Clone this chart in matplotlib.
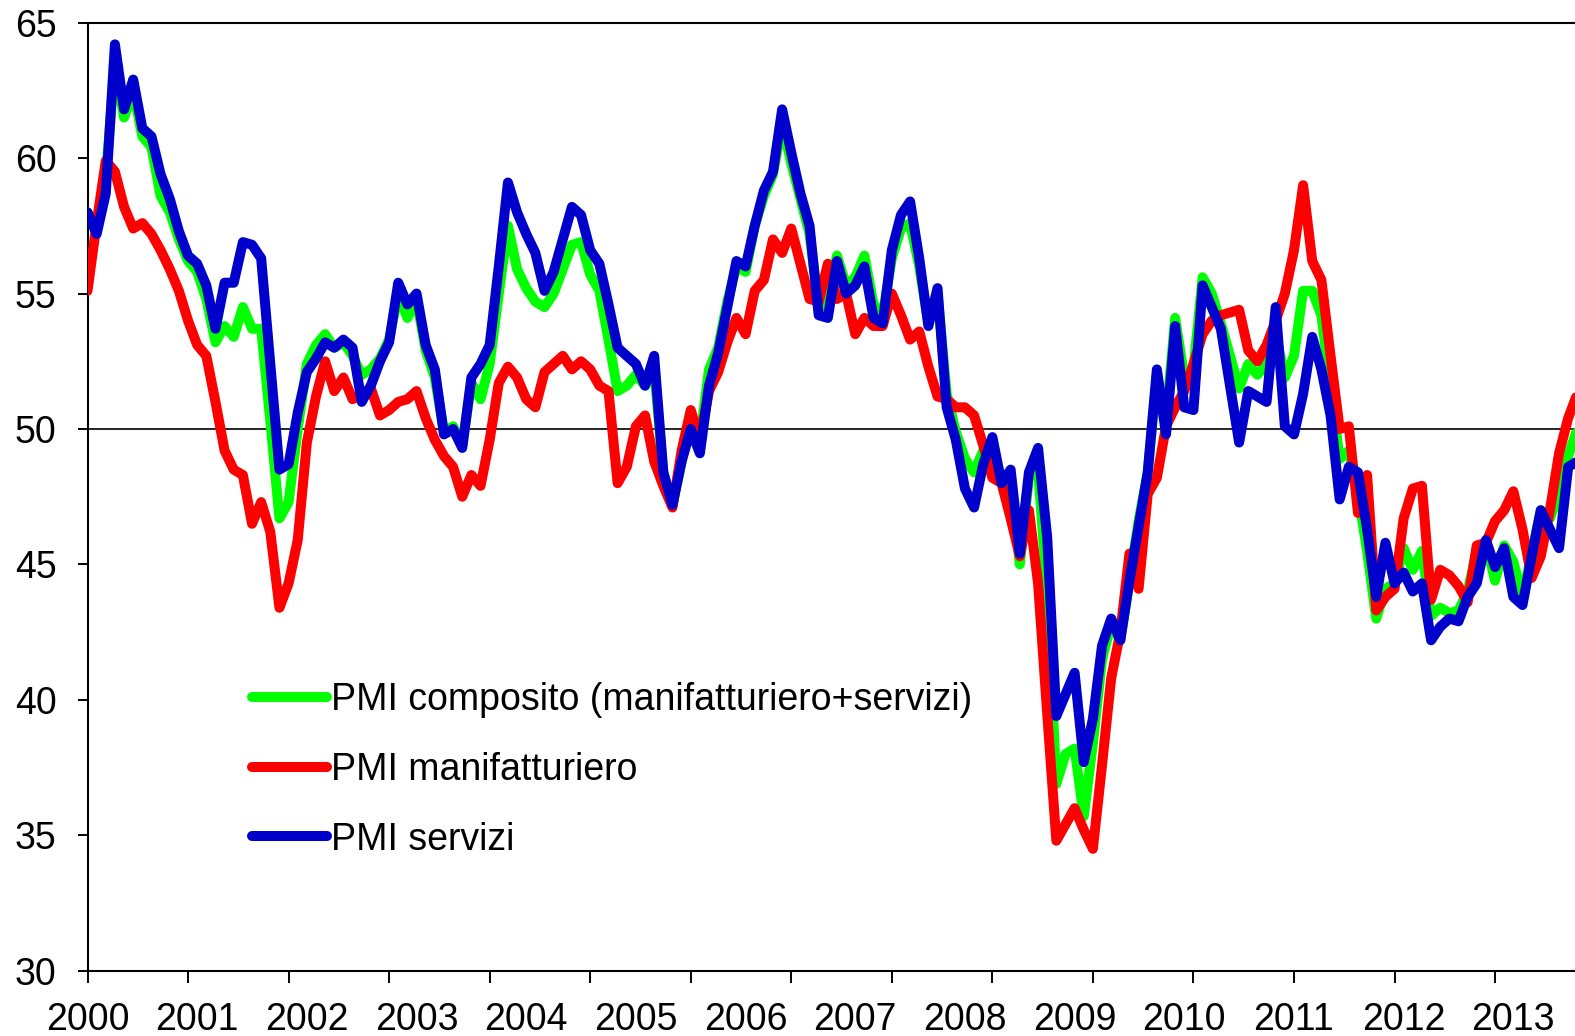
import matplotlib
matplotlib.use("Agg")
import matplotlib.pyplot as plt
import numpy as np

plt.rcParams['font.family'] = ['Liberation Sans', 'DejaVu Sans']

years = [str(y) for y in range(2000, 2014)]

composito = [
    58.0, 57.4, 59.3, 63.5, 61.5, 62.5, 60.8, 60.4, 58.6, 58.0, 57.0, 56.2,
    55.8, 54.8, 53.2, 53.8, 53.4, 54.5, 53.7, 53.7, 50.3, 46.7, 47.3, 50.0,
    52.4, 53.1, 53.5, 53.0, 53.2, 52.7, 52.0, 52.2, 52.6, 53.3, 55.0, 54.1,
    54.8, 52.9, 51.9, 49.9, 50.1, 49.4, 51.7, 51.1, 52.4, 55.0, 57.5, 55.9,
    55.2, 54.7, 54.5, 55.0, 55.9, 56.8, 56.9, 55.7, 55.1, 53.3, 51.4, 51.6,
    52.0, 51.6, 52.2, 48.4, 47.2, 48.8, 50.5, 49.6, 52.2, 53.0, 54.7, 56.0,
    55.8, 57.5, 58.6, 59.4, 61.3, 59.8, 58.5, 57.2, 54.5, 54.6, 56.4, 55.3,
    55.6, 56.4, 54.6, 54.2, 56.3, 57.4, 57.6, 56.0, 53.9, 55.0, 51.3, 49.9,
    48.9, 48.4, 49.2, 49.6, 48.0, 48.3, 45.0, 48.2, 48.5, 44.0, 36.9, 38.0,
    38.2, 35.7, 38.4, 41.5, 42.8, 42.2, 44.4, 46.6, 48.4, 52.0, 50.3, 54.1,
    51.9, 52.2, 55.6, 55.0, 53.9, 52.7, 51.5, 52.4, 52.0, 52.4, 53.5, 51.9,
    52.7, 55.1, 55.1, 54.2, 51.5, 48.9, 49.2, 47.6, 45.5, 43.0, 44.1, 44.3,
    45.6, 44.8, 45.5, 43.1, 43.4, 43.2, 43.3, 44.0, 45.5, 45.8, 44.4, 45.7,
    45.1, 43.8, 45.4, 47.0, 46.7, 47.6, 49.0, 50.0,
]

manifatturiero = [
    55.1, 57.6, 59.9, 59.5, 58.2, 57.4, 57.6, 57.2, 56.6, 55.9, 55.1, 54.0,
    53.1, 52.7, 51.0, 49.2, 48.5, 48.3, 46.5, 47.3, 46.2, 43.4, 44.3, 45.9,
    49.5, 51.2, 52.5, 51.4, 51.9, 51.1, 51.3, 51.5, 50.5, 50.7, 51.0, 51.1,
    51.4, 50.4, 49.6, 49.0, 48.6, 47.5, 48.3, 47.9, 49.6, 51.7, 52.3, 51.9,
    51.1, 50.8, 52.1, 52.4, 52.7, 52.2, 52.5, 52.2, 51.6, 51.4, 48.0, 48.6,
    50.1, 50.5, 48.8, 47.9, 47.1, 49.2, 50.7, 49.6, 51.4, 52.1, 53.2, 54.1,
    53.5, 55.1, 55.5, 57.0, 56.5, 57.4, 56.1, 54.8, 54.7, 56.1, 54.8, 55.0,
    53.5, 54.1, 53.8, 53.8, 55.0, 54.2, 53.3, 53.6, 52.3, 51.2, 51.1, 50.8,
    50.8, 50.5, 49.4, 48.2, 48.0, 46.7, 45.3, 47.0, 44.3, 39.5, 34.8, 35.4,
    36.0, 35.2, 34.5, 37.6, 40.8, 42.5, 45.4, 44.1, 47.6, 48.2, 50.1, 50.8,
    51.4, 52.4, 53.5, 54.0, 54.2, 54.3, 54.4, 52.9, 52.5, 53.1, 54.0, 55.0,
    56.6, 59.0, 56.2, 55.5, 52.7, 50.0, 50.1, 46.9, 48.3, 43.3, 43.8, 44.1,
    46.7, 47.8, 47.9, 43.7, 44.8, 44.6, 44.2, 43.6, 45.7, 45.8, 46.6, 47.0,
    47.7, 46.3, 44.5, 45.3, 47.0, 49.1, 50.4, 51.3,
]

servizi = [
    58.0, 57.2, 58.7, 64.2, 61.8, 62.9, 61.1, 60.8, 59.4, 58.5, 57.3, 56.4,
    56.1, 55.3, 53.7, 55.4, 55.4, 56.9, 56.8, 56.3, 52.4, 48.5, 48.7, 50.6,
    52.1, 52.6, 53.2, 53.0, 53.3, 53.0, 51.0, 51.6, 52.5, 53.2, 55.4, 54.6,
    55.0, 53.1, 52.2, 49.8, 50.0, 49.3, 51.9, 52.4, 53.1, 56.0, 59.1, 58.0,
    57.2, 56.5, 55.1, 55.8, 57.0, 58.2, 57.9, 56.6, 56.1, 54.6, 53.0, 52.7,
    52.4, 51.6, 52.7, 48.4, 47.2, 48.8, 50.0, 49.1, 51.6, 52.8, 54.5, 56.2,
    56.0, 57.5, 58.8, 59.5, 61.8, 60.2, 58.7, 57.5, 54.2, 54.1, 56.2, 55.0,
    55.3, 56.0, 54.1, 53.9, 56.6, 57.9, 58.4, 56.3, 53.8, 55.2, 50.8, 49.6,
    47.8, 47.1, 48.7, 49.7, 48.0, 48.5, 45.4, 48.4, 49.3, 46.0, 39.4, 40.2,
    41.0, 37.7, 39.3, 42.0, 43.0, 42.2, 44.4, 46.4, 48.4, 52.2, 49.8, 53.8,
    50.8, 50.7, 55.3, 54.5, 53.7, 51.6, 49.5, 51.4, 51.2, 51.0, 54.5, 50.1,
    49.8, 51.3, 53.4, 52.2, 50.5, 47.4, 48.6, 48.4, 46.3, 43.8, 45.8, 44.3,
    44.7, 44.0, 44.3, 42.2, 42.7, 43.0, 42.9, 43.8, 44.3, 45.9, 44.9, 45.6,
    43.8, 43.5, 45.3, 47.0, 46.3, 45.6, 48.6, 48.8,
]

labels = ["PMI composito (manifatturiero+servizi)",
          "PMI manifatturiero",
          "PMI servizi"]
colors = ["#00FF00", "#FF0000", "#0000CC"]

W, H = 1575, 1036
fig = plt.figure(figsize=(W / 100, H / 100), dpi=100)

n = len(servizi)
x = np.arange(n)
left_px, right_px = 87.5, 87.5 + (n - 1) * 9.14
top_px, bottom_px = 22.7, 970.7
ax = fig.add_axes([left_px / W, 1 - bottom_px / H,
                   (right_px - left_px) / W, (bottom_px - top_px) / H])
ax.xaxis.remove_overlapping_locs = False

lw = 7.2
handles = []
for z, (series, c, lab) in enumerate(zip([composito, manifatturiero, servizi], colors, labels)):
    ln, = ax.plot(x, series, color=c, lw=lw, label=lab, zorder=3 + z,
                  solid_joinstyle='round', solid_capstyle='round')
    handles.append(ln)

ax.axhline(50, color='black', lw=1.2, zorder=2)

ax.set_xlim(0, n - 1)
ax.set_ylim(30, 65)
ax.set_yticks(range(30, 66, 5))

# tick marks every 11 months, year labels every 12 months
ax.set_xticks(np.arange(0, n, 11))
ax.set_xticklabels([])
ax.set_xticks(np.arange(0, 12 * len(years), 12), minor=True)
ax.set_xticklabels(years, minor=True)

fs = 27
ax.tick_params(axis='x', which='major', direction='out', length=8.6, width=1.4)
ax.tick_params(axis='x', which='minor', length=0, pad=22.5, labelsize=fs)
ax.tick_params(axis='y', which='major', direction='out', length=7.2, width=1.4,
               pad=15, labelsize=fs)

for s in ['left', 'bottom', 'top']:
    ax.spines[s].set_linewidth(1.5)
    ax.spines[s].set_color('black')
ax.spines['right'].set_visible(False)

leg = ax.legend(handles=handles, loc='upper left',
                bbox_to_anchor=(252 / W, 1 - 682 / H), bbox_transform=fig.transFigure,
                frameon=False, fontsize=fs, handlelength=2.0, handletextpad=0.1,
                labelspacing=0.9, borderpad=0, borderaxespad=0)

fig.savefig("out.png", dpi=100)
